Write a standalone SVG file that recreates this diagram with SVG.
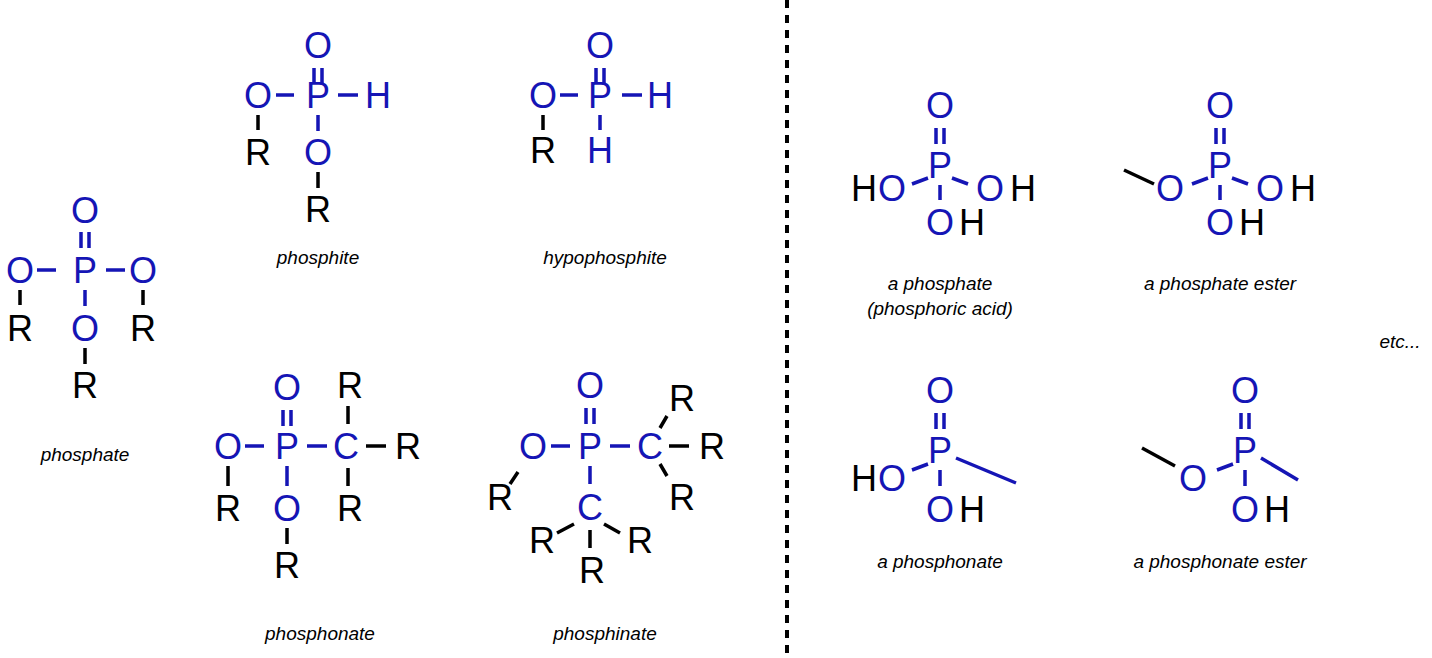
<svg xmlns="http://www.w3.org/2000/svg" width="1432" height="658" viewBox="0 0 1432 658">
<style>
text{font-family:"Liberation Sans",Arial,sans-serif}
.a{font-size:36px;text-anchor:middle;fill:#1515b5}
.k{font-size:36px;text-anchor:middle;fill:#000}
.l{font-size:19px;font-style:italic;text-anchor:middle;fill:#000}
.b{stroke:#1515b5;stroke-width:3.5;fill:none}
.bk{stroke:#000;stroke-width:3.5;fill:none}
</style>
<rect width="1432" height="658" fill="#fff"/>
<g id="connectors">
<line x1="787" y1="0" x2="787" y2="658" stroke="#000" stroke-width="4" stroke-dasharray="8,7"/>
<path class="b" d="M81 232V248M89 232V248M37 270H56M106 270H125M85 290V306"/>
<path class="bk" d="M20 290V305M143 290V305M85 348V364"/>
<path class="b" d="M314 68V84M322 68V84M276 95H294M338 95H358M318 115V131"/>
<path class="bk" d="M258 115V130M318 172V188"/>
<path class="b" d="M596 68V84M604 68V84M560 95H578M622 95H642M600 115V130"/>
<path class="bk" d="M543 115V130"/>
<path class="b" d="M283 410V426M291 410V426M245 446H264M307 446H327M287 466V486"/>
<path class="bk" d="M366 446H386M348 406V424M348 468V486M228 466V486M287 528V544"/>
<path class="b" d="M586 408V424M594 408V424M551 446H570M610 446H630M590 466V484"/>
<path class="bk" d="M669 446H689M660 428L667 416M660 464L667 476M518 472L510 484M574 524L557 533M604 524L620 533M590 530V548"/>
<path class="b" d="M936 128V144M944 128V144M928 178L912 184M952 178L968 184M940 185V200"/>
<path class="b" d="M1216 128V144M1224 128V144M1208 178L1192 184M1232 178L1248 184M1220 185V200"/>
<path class="bk" d="M1124 170L1154 184"/>
<path class="b" d="M936 413V429M944 413V429M928 464L912 470M940 470V486M956 458L1016 483"/>
<path class="b" d="M1241 413V429M1249 413V429M1233 464L1217 470M1245 470V486M1261 458L1298 480"/>
<path class="bk" d="M1142 448L1175 466"/>
</g>
<g id="phosphate">
<text class="a" x="85" y="223">O</text><text class="a" x="85" y="283">P</text>
<text class="a" x="20" y="283">O</text><text class="a" x="143" y="283">O</text>
<text class="a" x="85" y="341">O</text>
<text class="k" x="20" y="341">R</text><text class="k" x="143" y="341">R</text><text class="k" x="85" y="398">R</text>
<text class="l" x="85" y="461">phosphate</text>
</g>
<g id="phosphite">
<text class="a" x="318" y="58">O</text><text class="a" x="318" y="108">P</text>
<text class="a" x="258" y="108">O</text><text class="a" x="378" y="108">H</text>
<text class="a" x="318" y="165">O</text>
<text class="k" x="258" y="165">R</text><text class="k" x="318" y="222">R</text>
<text class="l" x="318" y="264">phosphite</text>
</g>
<g id="hypophosphite">
<text class="a" x="600" y="58">O</text><text class="a" x="600" y="108">P</text>
<text class="a" x="543" y="108">O</text><text class="a" x="660" y="108">H</text>
<text class="a" x="600" y="163">H</text><text class="k" x="543" y="163">R</text>
<text class="l" x="605" y="264">hypophosphite</text>
</g>
<g id="phosphonate">
<text class="a" x="287" y="400">O</text><text class="a" x="287" y="459">P</text>
<text class="a" x="228" y="459">O</text><text class="a" x="346" y="459">C</text>
<text class="a" x="287" y="521">O</text>
<text class="k" x="408" y="459">R</text><text class="k" x="350" y="398">R</text><text class="k" x="350" y="521">R</text>
<text class="k" x="228" y="521">R</text><text class="k" x="287" y="578">R</text>
<text class="l" x="320" y="640">phosphonate</text>
</g>
<g id="phosphinate">
<text class="a" x="590" y="398">O</text><text class="a" x="590" y="459">P</text>
<text class="a" x="533" y="459">O</text><text class="a" x="650" y="459">C</text>
<text class="a" x="590" y="520">C</text>
<text class="k" x="712" y="459">R</text><text class="k" x="682" y="411">R</text><text class="k" x="682" y="510">R</text>
<text class="k" x="500" y="510">R</text><text class="k" x="542" y="553">R</text><text class="k" x="640" y="553">R</text>
<text class="k" x="592" y="583">R</text>
<text class="l" x="605" y="640">phosphinate</text>
</g>
<g id="phosphoric-acid">
<text class="a" x="940" y="118">O</text><text class="a" x="940" y="178">P</text>
<text class="k" x="864" y="201">H</text><text class="a" x="892" y="201">O</text>
<text class="a" x="990" y="201">O</text><text class="k" x="1023" y="201">H</text>
<text class="a" x="940" y="235">O</text><text class="k" x="972" y="235">H</text>
<text class="l" x="940" y="290">a phosphate</text>
<text class="l" x="940" y="315">(phosphoric acid)</text>
</g>
<g id="phosphate-ester">
<text class="a" x="1220" y="118">O</text><text class="a" x="1220" y="178">P</text>
<text class="a" x="1170" y="201">O</text>
<text class="a" x="1270" y="201">O</text><text class="k" x="1303" y="201">H</text>
<text class="a" x="1220" y="235">O</text><text class="k" x="1252" y="235">H</text>
<text class="l" x="1220" y="290">a phosphate ester</text>
</g>
<text class="l" x="1400" y="348">etc...</text>
<g id="phosphonate-acid">
<text class="a" x="940" y="403">O</text><text class="a" x="940" y="463">P</text>
<text class="k" x="864" y="491">H</text><text class="a" x="892" y="491">O</text>
<text class="a" x="940" y="522">O</text><text class="k" x="972" y="522">H</text>
<text class="l" x="940" y="568">a phosphonate</text>
</g>
<g id="phosphonate-ester">
<text class="a" x="1245" y="403">O</text><text class="a" x="1245" y="463">P</text>
<text class="a" x="1193" y="491">O</text>
<text class="a" x="1245" y="522">O</text><text class="k" x="1277" y="522">H</text>
<text class="l" x="1220" y="568">a phosphonate ester</text>
</g>
</svg>
